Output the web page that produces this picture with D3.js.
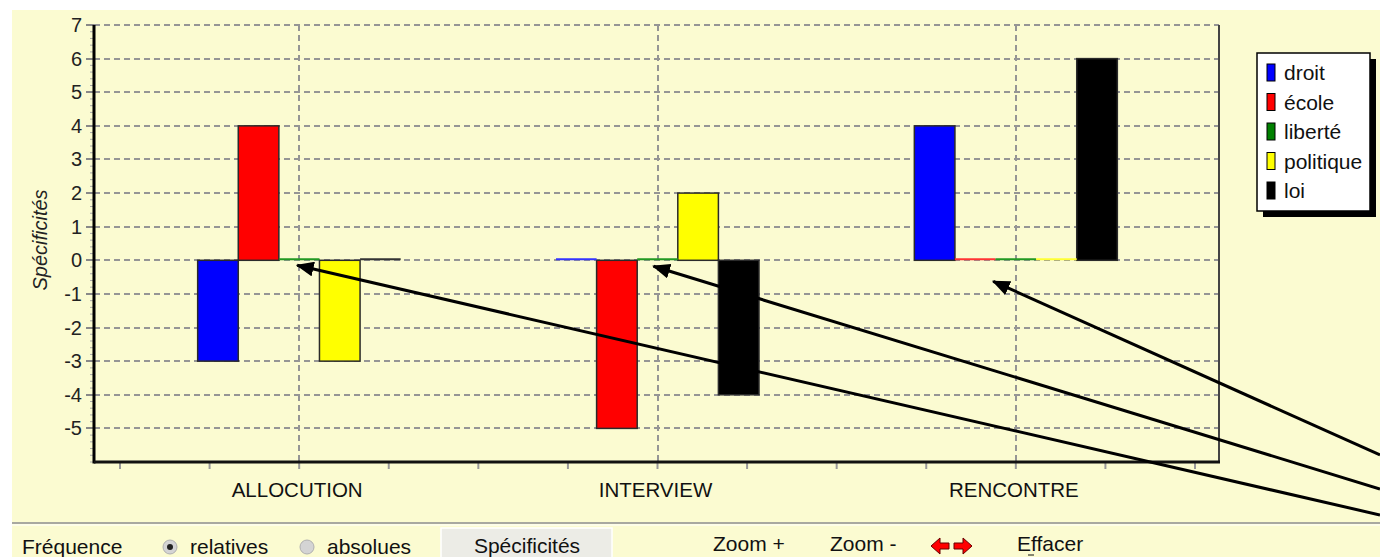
<!DOCTYPE html>
<html>
<head>
<meta charset="utf-8">
<script src="https://cdn.jsdelivr.net/npm/d3@7"></script>
<style>
  body { margin: 0; background: #fff; }
  text { font-family: Arial, "Liberation Sans", sans-serif; }
</style>
</head>
<body>
<div id="chart"></div>
<script>
// data
const categories = ["ALLOCUTION", "INTERVIEW", "RENCONTRE"]
const series = ["droit", "école", "liberté", "politique", "loi"]
const colors = ["#0000ff", "#ff0000", "#008000", "#ffff00", "#000000"]
const zeroColors = ["#3333ff", "#ff3333", "#229922", "#ffff33", "#333333"]
const droit = [-3, 0, 4]
const ecole = [4, -5, 0]
const liberte = [0, 0, 0]
const politique = [-3, 2, 0]
const loi = [0, -4, 6]
const yTicks = [7, 6, 5, 4, 3, 2, 1, 0, -1, -2, -3, -4, -5]

const values = [droit, ecole, liberte, politique, loi]

// arrows pointing at the empty bars (target category / series, start off the chart)
const arrows = [
  {cat: "ALLOCUTION", ser: "liberté", dx: -2, dy: 5, from: [1380, 515]},
  {cat: "INTERVIEW", ser: "liberté", dx: -4, dy: 6, from: [1380, 489]},
  {cat: "RENCONTRE", ser: "école", dx: 18, dy: 21, from: [1380, 455]}
]

const W = 1380, H = 557
const svg = d3.select("#chart").append("svg")
  .attr("width", W).attr("height", H)

const bg = "#fbfbd1"
svg.append("rect").attr("x", 12).attr("y", 10).attr("width", W - 12).attr("height", H - 10)
  .attr("fill", bg)

const pLeft = 94, pRight = 1219, pTop = 25
const y = d3.scaleLinear().domain([-6, 7]).range([462, pTop])
const x = d3.scaleBand().domain(categories).range([120, 1195])
const xs = d3.scaleBand().domain(series).range([0, 203])
const pBottom = y(-6)
const bw = x.bandwidth()
const off = (bw - xs.range()[1]) / 2

// horizontal gridlines
svg.append("g").selectAll("line")
  .data(yTicks)
  .join("line")
    .attr("x1", pLeft).attr("x2", pRight)
    .attr("y1", d => Math.round(y(d))).attr("y2", d => Math.round(y(d)))
    .attr("stroke", "#959595").attr("stroke-width", 2)
    .attr("stroke-dasharray", "6,4")

// vertical gridlines at category centres
svg.append("g").selectAll("line")
  .data(categories)
  .join("line")
    .attr("x1", d => Math.round(x(d) + bw / 2)).attr("x2", d => Math.round(x(d) + bw / 2))
    .attr("y1", pTop).attr("y2", pBottom)
    .attr("stroke", "#959595").attr("stroke-width", 2)
    .attr("stroke-dasharray", "6,4")

// minor + major y ticks
svg.append("g").selectAll("line")
  .data(d3.range(-30, 36).map(d => d / 5))
  .join("line")
    .attr("x1", pLeft - 4).attr("x2", pLeft)
    .attr("y1", d => y(d)).attr("y2", d => y(d))
    .attr("stroke", "#aaa").attr("stroke-width", 1)
svg.append("g").selectAll("line")
  .data(yTicks)
  .join("line")
    .attr("x1", pLeft - 8).attr("x2", pLeft)
    .attr("y1", d => Math.round(y(d))).attr("y2", d => Math.round(y(d)))
    .attr("stroke", "#888").attr("stroke-width", 2)

svg.append("g").selectAll("text")
  .data(yTicks)
  .join("text")
    .attr("x", 82).attr("y", d => y(d) + 7)
    .attr("text-anchor", "end")
    .style("font-size", "20px")
    .attr("fill", "#222")
    .text(d => d)

// bottom ticks, four per band
svg.append("g").selectAll("line")
  .data(d3.range(0, 13))
  .join("line")
    .attr("x1", d => x.range()[0] + d * bw / 4).attr("x2", d => x.range()[0] + d * bw / 4)
    .attr("y1", pBottom).attr("y2", pBottom + 7)
    .attr("stroke", "#999").attr("stroke-width", 2)

svg.append("g").selectAll("text")
  .data(categories)
  .join("text")
    .attr("x", d => x(d) + bw / 2 - 2).attr("y", 497)
    .attr("text-anchor", "middle")
    .style("font-size", "20.5px")
    .attr("fill", "#111")
    .text(d => d)

// bars
const cells = []
categories.forEach((c, i) => {
  series.forEach((s, j) => cells.push({cat: c, ser: s, j: j, v: values[j][i]}))
})

svg.append("g").selectAll("rect")
  .data(cells.filter(d => d.v != 0))
  .join("rect")
    .attr("x", d => x(d.cat) + off + xs(d.ser))
    .attr("width", xs.bandwidth())
    .attr("y", d => y(Math.max(0, d.v)))
    .attr("height", d => Math.abs(y(d.v) - y(0)))
    .attr("fill", d => colors[d.j])
    .attr("stroke", "#2a2a2a").attr("stroke-width", 1.5)

svg.append("g").selectAll("line")
  .data(cells.filter(d => d.v == 0))
  .join("line")
    .attr("x1", d => x(d.cat) + off + xs(d.ser))
    .attr("x2", d => x(d.cat) + off + xs(d.ser) + xs.bandwidth())
    .attr("y1", y(0) - 1).attr("y2", y(0) - 1)
    .attr("stroke", d => zeroColors[d.j]).attr("stroke-width", 2)

// frame
svg.append("line").attr("x1", pRight).attr("x2", pRight).attr("y1", pTop).attr("y2", pBottom)
  .attr("stroke", "#444").attr("stroke-width", 2)
svg.append("line").attr("x1", pLeft).attr("x2", pLeft).attr("y1", pTop).attr("y2", pBottom + 1.5)
  .attr("stroke", "#000").attr("stroke-width", 3)
svg.append("line").attr("x1", pLeft).attr("x2", pRight + 1).attr("y1", pBottom).attr("y2", pBottom)
  .attr("stroke", "#111").attr("stroke-width", 3)

svg.append("text")
  .attr("transform", "translate(47,240) rotate(-90)")
  .attr("text-anchor", "middle")
  .style("font-size", "20px").style("font-style", "italic")
  .attr("fill", "#222")
  .text("Spécificités")

// legend
const lg = svg.append("g").attr("transform", "translate(1257,53)")
lg.append("rect").attr("x", 6).attr("y", 6).attr("width", 113).attr("height", 158).attr("fill", "#000")
lg.append("rect").attr("x", 0).attr("y", 0).attr("width", 113).attr("height", 158)
  .attr("fill", "#fff").attr("stroke", "#000").attr("stroke-width", 1.5)
const li = lg.selectAll("g.item")
  .data(series)
  .join("g")
    .attr("class", "item")
    .attr("transform", (d, i) => "translate(0," + (20 + i * 29.5) + ")")
li.append("rect")
  .attr("x", 10).attr("y", -9).attr("width", 8).attr("height", 17)
  .attr("fill", (d, i) => colors[i]).attr("stroke", "#000").attr("stroke-width", 1)
li.append("text")
  .attr("x", 27).attr("y", 7)
  .style("font-size", "21px")
  .attr("fill", "#111")
  .text(d => d)

// annotation arrows
svg.append("defs").append("marker")
  .attr("id", "head")
  .attr("viewBox", "0 0 12 10")
  .attr("refX", 11).attr("refY", 5)
  .attr("markerWidth", 6).attr("markerHeight", 5)
  .attr("orient", "auto")
  .attr("markerUnits", "strokeWidth")
  .append("path").attr("d", "M0,0 L12,5 L0,10 Z").attr("fill", "#000")

svg.append("g").selectAll("line")
  .data(arrows)
  .join("line")
    .attr("x1", d => d.from[0]).attr("y1", d => d.from[1])
    .attr("x2", d => x(d.cat) + off + xs(d.ser) + xs.bandwidth() / 2 + d.dx)
    .attr("y2", d => y(0) + d.dy)
    .attr("stroke", "#000").attr("stroke-width", 3)
    .attr("marker-end", "url(#head)")

// toolbar at the bottom
svg.append("line").attr("x1", 12).attr("x2", W).attr("y1", 523).attr("y2", 523)
  .attr("stroke", "#a8a8a0").attr("stroke-width", 2)
svg.append("line").attr("x1", 12).attr("x2", W).attr("y1", 525).attr("y2", 525)
  .attr("stroke", "#ffffff").attr("stroke-width", 1)

const tb = svg.append("g").style("font-size", "21px").attr("fill", "#111")
tb.append("text").attr("x", 22).attr("y", 554).text("Fréquence")
const radios = [{x: 170, on: true, label: "relatives"}, {x: 307, on: false, label: "absolues"}]
radios.forEach(r => {
  tb.append("circle").attr("cx", r.x).attr("cy", 547).attr("r", 7)
    .attr("fill", "#d4d4d4").attr("stroke", "#b0b0b0").attr("stroke-width", 1)
  if (r.on) tb.append("circle").attr("cx", r.x).attr("cy", 547).attr("r", 3).attr("fill", "#222")
  tb.append("text").attr("x", r.x + 20).attr("y", 554).text(r.label)
})
tb.append("rect").attr("x", 441).attr("y", 528).attr("width", 171).attr("height", 32)
  .attr("fill", "#ecece6").attr("stroke", "#fff").attr("stroke-width", 1.5)
tb.append("text").attr("x", 527).attr("y", 553).attr("text-anchor", "middle").text("Spécificités")
tb.append("text").attr("x", 713).attr("y", 551).text("Zoom +")
tb.append("text").attr("x", 830).attr("y", 551).text("Zoom -")

const arrowShape = "M0,0 L9,-8 L9,-3 L18,-3 L18,3 L9,3 L9,8 Z"
tb.append("path").attr("d", arrowShape).attr("transform", "translate(931,546)")
  .attr("fill", "#ff0000").attr("stroke", "#600").attr("stroke-width", 1)
tb.append("path").attr("d", arrowShape).attr("transform", "translate(972,546) scale(-1,1)")
  .attr("fill", "#ff0000").attr("stroke", "#600").attr("stroke-width", 1)
tb.append("text").attr("x", 1017).attr("y", 551).text("Effacer")
tb.append("line").attr("x1", 1028).attr("x2", 1034).attr("y1", 555).attr("y2", 555)
  .attr("stroke", "#111").attr("stroke-width", 1)
</script>
</body>
</html>
